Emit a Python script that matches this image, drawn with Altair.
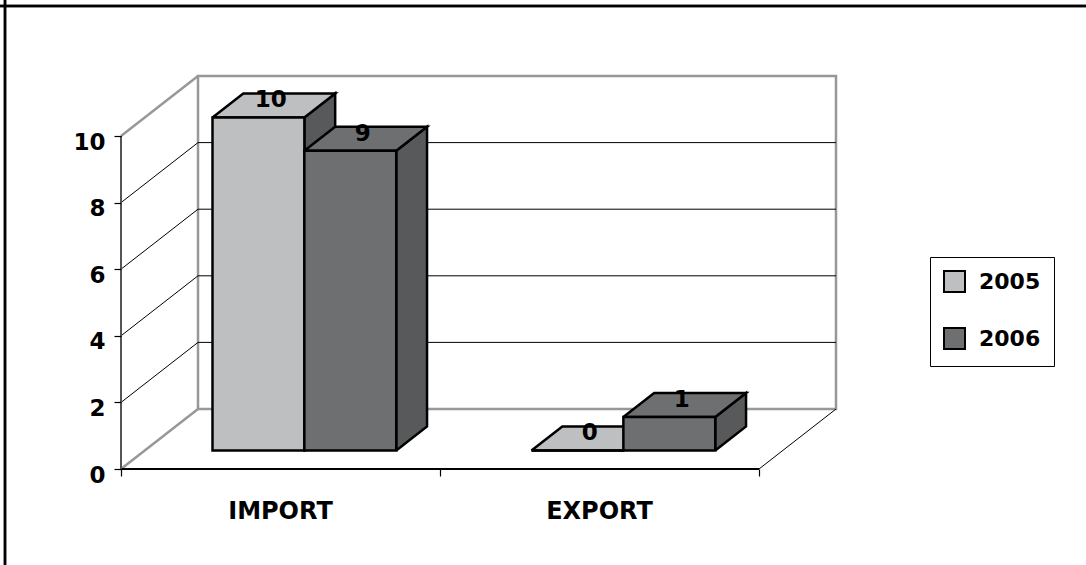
import altair as alt
import pandas as pd

# ---------------- data ----------------
cats = ["IMPORT", "EXPORT"]
years = ["2005", "2006"]
val_2005 = [10, 0]
val_2006 = [9, 1]
y_ticks = [0, 2, 4, 6, 8, 10]
grid_vals = [2, 4, 6, 8]
x_ticks = [0, 1, 2]

front_colors = ["#BEBFC1", "#6E6F71"]
side_color = "#58595B"
GRAY = "#989898"
FONT = "DejaVu Sans"

# ---------------- geometry (3-D look) ----------------
W, H = 638, 333
XMAX, YMAX = 2, 10
DX = 77 / (W / XMAX)   # depth of the walls, x units
DY = 60 / (H / YMAX)   # depth of the walls, value units
F1, F2 = 0.31, 0.71    # bar front / back as a share of the depth
EDGES = [0.212, 0.5, 0.788]

xs = alt.Scale(domain=[0, XMAX], nice=False, zero=False)
ys = alt.Scale(domain=[0, YMAX], nice=False, zero=False)

values = {"2005": val_2005, "2006": val_2006}

front_rows, poly_rows, label_rows = [], [], []
for ci, cat in enumerate(cats):
    for si, yr in enumerate(years):
        v = values[yr][ci]
        x0, x1 = ci + EDGES[si], ci + EDGES[si + 1]
        front_rows.append(dict(cat=cat, year=yr, x=x0 + F1 * DX, x2=x1 + F1 * DX,
                               y=F1 * DY, y2=v + F1 * DY))
        top = [(x0, v, F1), (x1, v, F1), (x1, v, F2), (x0, v, F2), (x0, v, F1)]
        side = [(x1, 0, F1), (x1, v, F1), (x1, v, F2), (x1, 0, F2), (x1, 0, F1)]
        for face, pts in (("top", top), ("side", side)):
            for k, (px, py, f) in enumerate(pts):
                poly_rows.append(dict(cat=cat, year=yr, face=face, k=k,
                                      x=px + f * DX, y=py + f * DY))
        fm = (F1 + F2) / 2
        label_rows.append(dict(cat=cat, year=yr, v=v,
                               x=(x0 + x1) / 2 + fm * DX, y=v + fm * DY))

front_df = pd.DataFrame(front_rows)
poly_df = pd.DataFrame(poly_rows)
label_df = pd.DataFrame(label_rows)

wall_df = pd.DataFrame([dict(x=DX, x2=XMAX + DX, y=DY, y2=YMAX + DY)])
grid_df = pd.DataFrame([dict(x=DX, x2=XMAX + DX, y=g + DY, y2=g + DY) for g in grid_vals])
diag_black = pd.DataFrame([dict(x=0, x2=DX, y=t, y2=t + DY) for t in y_ticks[1:-1]]
                          + [dict(x=XMAX, x2=XMAX + DX, y=0, y2=DY)])
diag_gray = pd.DataFrame([dict(x=0, x2=DX, y=t, y2=t + DY) for t in (y_ticks[0], y_ticks[-1])])
front_x_line = pd.DataFrame([dict(x=0, x2=XMAX, y=0, y2=0)])
front_y_line = pd.DataFrame([dict(x=0, x2=0, y=0, y2=YMAX)])
cat_df = pd.DataFrame(dict(cat=cats, x=[i + 0.5 for i in range(len(cats))]))

y_axis = alt.Axis(values=y_ticks, title=None, grid=False, tickSize=7, tickColor="black",
                  tickWidth=1.2, domain=False, labelFont=FONT,
                  labelFontWeight="bold", labelFontSize=23, labelColor="black",
                  labelPadding=9, labelBaseline="middle", labelOffset=6, zindex=1)
x_axis = alt.Axis(values=x_ticks, labels=False, title=None, grid=False, tickSize=7,
                  tickColor="black", tickWidth=1.2, domain=False, zindex=1)

legend = alt.Legend(title=None, orient="none", legendX=809, legendY=121,
                    symbolType="square", symbolSize=441, symbolStrokeColor="black",
                    symbolStrokeWidth=2, labelFont=FONT, labelFontWeight="bold",
                    labelFontSize=22, labelColor="black", labelOffset=13,
                    rowPadding=28, padding=13, strokeColor="black", fillColor="white")


def X():
    return alt.X("x:Q", scale=xs, axis=x_axis)


def Y():
    return alt.Y("y:Q", scale=ys, axis=y_axis)


def seg(df, color, width):
    return alt.Chart(df).mark_rule(color=color, strokeWidth=width).encode(
        x=X(), x2="x2:Q", y=Y(), y2="y2:Q")


wall = alt.Chart(wall_df).mark_rect(fill="white", stroke=GRAY, strokeWidth=2.5).encode(
    x=X(), x2="x2:Q", y=Y(), y2="y2:Q")

layers = [wall, seg(grid_df, "black", 1), seg(diag_black, "black", 1), seg(diag_gray, GRAY, 2.5),
          seg(front_x_line, "black", 2), seg(front_y_line, "#555555", 2)]

for si, yr in enumerate(years):
    for face, col in (("side", side_color), ("top", front_colors[si])):
        layers.append(
            alt.Chart(poly_df).transform_filter(
                (alt.datum.year == yr) & (alt.datum.face == face)
            ).mark_line(fill=col, stroke="black", strokeWidth=2.5, strokeJoin="miter").encode(
                x=X(), y=Y(), order=alt.Order("k:Q"), detail="cat:N",
            )
        )
    layers.append(
        alt.Chart(front_df).transform_filter(alt.datum.year == yr).mark_rect(
            stroke="black", strokeWidth=2.5).encode(
            x=X(), x2="x2:Q", y=Y(), y2="y2:Q",
            fill=alt.Fill("year:N", scale=alt.Scale(domain=years, range=front_colors),
                          legend=legend),
        )
    )

labels = alt.Chart(label_df).mark_text(font=FONT, fontWeight="bold", fontSize=23,
                                       color="black", baseline="alphabetic",
                                       dx=-3, dy=2).encode(
    x=X(), y=Y(), text="v:Q")

cat_text = alt.Chart(cat_df).mark_text(font=FONT, fontWeight="bold", fontSize=24,
                                       color="black", baseline="middle").encode(
    x=X(), y=alt.value(376), text="cat:N")

border_top = alt.Chart(cat_df).mark_rule(color="black", strokeWidth=2.5).encode(
    x=alt.value(-121), x2=alt.value(965), y=alt.value(-130))
border_left = alt.Chart(cat_df).mark_rule(color="black", strokeWidth=2.5).encode(
    x=alt.value(-116), y=alt.value(-136), y2=alt.value(429))

layers += [labels, cat_text, border_top, border_left]

chart = alt.layer(*layers).properties(
    width=W, height=H,
    background="white",
    padding={"left": 121, "top": 136, "right": 327, "bottom": 96},
    autosize=alt.AutoSizeParams(type="none"),
).configure_view(stroke="transparent")

chart.save("out.html", embed_options={"renderer": "svg", "actions": False})
